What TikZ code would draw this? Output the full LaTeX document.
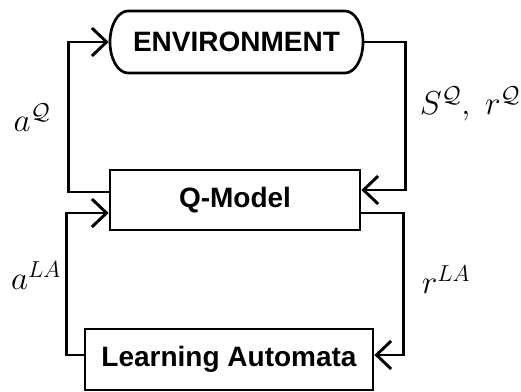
\documentclass[tikz,border=0pt]{standalone}
\usepackage{fontspec}
\setmainfont{Liberation Sans}
\usetikzlibrary{arrows.meta}

\begin{document}
\begin{tikzpicture}[x=0.75pt,y=-0.75pt,
  blockbox/.style={draw, line width=2pt, inner sep=0pt,
    font=\bfseries\fontsize{21}{25}\selectfont},
  flow/.style={line width=2pt, -{Straight Barb[length=11pt,width=21pt,line width=2.2pt]}},
  lbl/.style={inner sep=0pt, font=\fontsize{27}{30}\selectfont}
]
\useasboundingbox (0,0) rectangle (521,392);

% environment: box with elliptical end caps
\node[blockbox, draw=none, minimum width=253*0.75pt, minimum height=62*0.75pt]
  (env) at (236.5,42) {ENVIRONMENT};
\draw[line width=2pt]
  (128,11) -- (345,11)
  .. controls (354.94,11) and (363,24.88) .. (363,42)
  .. controls (363,59.12) and (354.94,73) .. (345,73)
  -- (128,73)
  .. controls (118.06,73) and (110,59.12) .. (110,42)
  .. controls (110,24.88) and (118.06,11) .. (128,11) -- cycle;

\node[blockbox, minimum width=250*0.75pt, minimum height=60*0.75pt]
  (qm) at (235,200) {Q-Model};
\node[blockbox, minimum width=288*0.75pt, minimum height=61*0.75pt]
  (la) at (229,359.5) {Learning Automata};

% connectors
\draw[flow] ([yshift=6pt]qm.west) -- ++(-40,0) |- (env.west);
\draw[flow] (env.east) -- ++(41,0) |- ([yshift=7.5pt]qm.east);
\draw[flow] ([yshift=3.4pt]la.west) -- ++(-17,0) |- ([yshift=-9.75pt]qm.west);
\draw[flow] ([yshift=-9.75pt]qm.east) -- ++(42,0) |- ([yshift=3.4pt]la.east);

% signal labels
\node[lbl] (aq) at (32,118) {$a^{\mathcal{Q}}$};
\node[lbl] (sq) at (470,104) {$S^{\mathcal{Q}},\; r^{\mathcal{Q}}$};
\node[lbl] (ala) at (36,276) {$a^{LA}$};
\node[lbl] (rla) at (446,280) {$r^{LA}$};
\end{tikzpicture}
\end{document}
